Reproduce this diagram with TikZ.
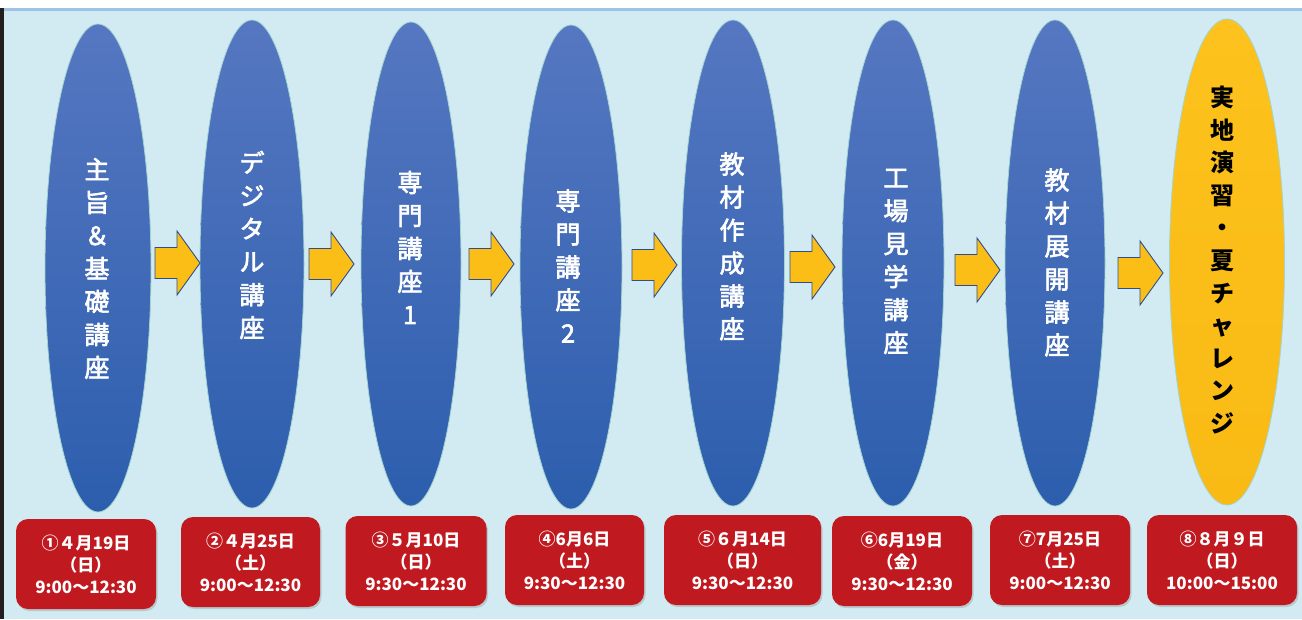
\documentclass[tikz,border=0pt]{standalone}
\usepackage{fontspec}
\newfontfamily\jp{Noto Sans CJK JP}
\newfontfamily\jpm[FakeBold=2.5]{Noto Sans CJK JP}
\usetikzlibrary{shapes.geometric,shadows}
\definecolor{bgc}{HTML}{D2EBF2}
\definecolor{topline}{HTML}{9DC3E6}
\definecolor{leftbar}{HTML}{231F20}
\definecolor{elltop}{HTML}{5677C1}
\definecolor{ellbot}{HTML}{2C5EAD}
\definecolor{elledge}{HTML}{A3D5D0}
\definecolor{goldtop}{HTML}{FDC21D}
\definecolor{goldbot}{HTML}{F9BA14}
\definecolor{arrowfill}{HTML}{FBBE17}
\definecolor{arrowline}{HTML}{2F4D8C}
\definecolor{boxred}{HTML}{C0191F}
\tikzset{
  course/.style={ellipse, inner sep=0pt, top color=elltop, bottom color=ellbot, draw=elledge, line width=0.8pt},
  finale/.style={ellipse, inner sep=0pt, top color=goldtop, bottom color=goldbot, draw=elledge, line width=0.8pt},
  vtext/.style={align=center, text=white, font=\jpm\fontsize{25}{33}\selectfont, inner sep=0pt},
  vtextdark/.style={align=center, text=black, font=\jp\bfseries\fontsize{24}{32.6}\selectfont, inner sep=0pt},
  datebox/.style={rectangle, rounded corners=12pt, fill=boxred, minimum height=90pt, align=center, text=white,
     font=\jp\bfseries\fontsize{17}{22}\selectfont, inner sep=0pt,
     drop shadow={shadow xshift=1.5pt, shadow yshift=-2pt, opacity=0.3}},
  blockarrow/.style={fill=arrowfill, draw=arrowline, line width=0.9pt, line join=miter}
}
\newcommand\blockarrow[2]{%
  \draw[blockarrow] (#1,#2-15.5) -- (#1+22,#2-15.5) -- (#1+22,#2-32) -- (#1+45,#2)
    -- (#1+22,#2+32) -- (#1+22,#2+15.5) -- (#1,#2+15.5) -- cycle;}
\begin{document}
\begin{tikzpicture}[x=1pt,y=-1pt]
\useasboundingbox (0,0) rectangle (1302,619);
\fill[white] (0,0) rectangle (1302,8);
\fill[bgc] (4,11) rectangle (1302,619);
\fill[topline] (4,8) rectangle (1302,11);
\fill[leftbar] (0,8) rectangle (4,619);

% ellipses
\node[course, minimum width=106pt, minimum height=488pt] (e1) at (98,268) {};
\node[course, minimum width=104pt, minimum height=488pt] (e2) at (252,264) {};
\node[course, minimum width=100pt, minimum height=484pt] (e3) at (411,264) {};
\node[course, minimum width=102pt, minimum height=484pt] (e4) at (571,267) {};
\node[course, minimum width=103pt, minimum height=486pt] (e5) at (733,263) {};
\node[course, minimum width=102pt, minimum height=486pt] (e6) at (893,263) {};
\node[course, minimum width=100pt, minimum height=486pt] (e7) at (1055,263) {};
\node[finale, minimum width=115pt, minimum height=486pt] (e8) at (1227,262) {};

% texts
\node[vtext] (t1) at (97,268.5) {主\\旨\\＆\\基\\礎\\講\\座};
\node[vtext] (t2) at (252,245) {デ\\ジ\\タ\\ル\\講\\座};
\node[vtext] (t3) at (410,247.5) {専\\門\\講\\座\\1};
\node[vtext] (t4) at (568,266) {専\\門\\講\\座\\2};
\node[vtext] (t5) at (732,246.5) {教\\材\\作\\成\\講\\座};
\node[vtext] (t6) at (896,261.5) {工\\場\\見\\学\\講\\座};
\node[vtext] (t7) at (1057,262.5) {教\\材\\展\\開\\講\\座};
\node[vtextdark] (t8) at (1222,260) {実\\地\\演\\習\\・\\夏\\チ\\ャ\\レ\\ン\\ジ};

% arrows
\blockarrow{155}{263}
\blockarrow{309}{264}
\blockarrow{469}{264}
\blockarrow{632}{265}
\blockarrow{790}{267}
\blockarrow{955}{270}
\blockarrow{1118}{273}

% date boxes
\node[datebox, minimum width=140pt] (d1) at (86,564) {①４月19日\\（日）\\9:00～12:30};
\node[datebox, minimum width=139pt] (d2) at (250.5,562) {②４月25日\\（土）\\9:00～12:30};
\node[datebox, minimum width=141pt] (d3) at (416,561) {③５月10日\\（日）\\9:30～12:30};
\node[datebox, minimum width=139pt] (d4) at (574.5,560) {④6月6日\\（土）\\9:30～12:30};
\node[datebox, minimum width=157pt] (d5) at (742.5,560) {⑤６月14日\\（日）\\9:30～12:30};
\node[datebox, minimum width=140pt] (d6) at (902,561) {⑥6月19日\\（金）\\9:30～12:30};
\node[datebox, minimum width=140pt] (d7) at (1060,560) {⑦7月25日\\（土）\\9:00～12:30};
\node[datebox, minimum width=150pt] (d8) at (1222,560) {⑧８月９日\\（日）\\10:00～15:00};
\end{tikzpicture}
\end{document}
